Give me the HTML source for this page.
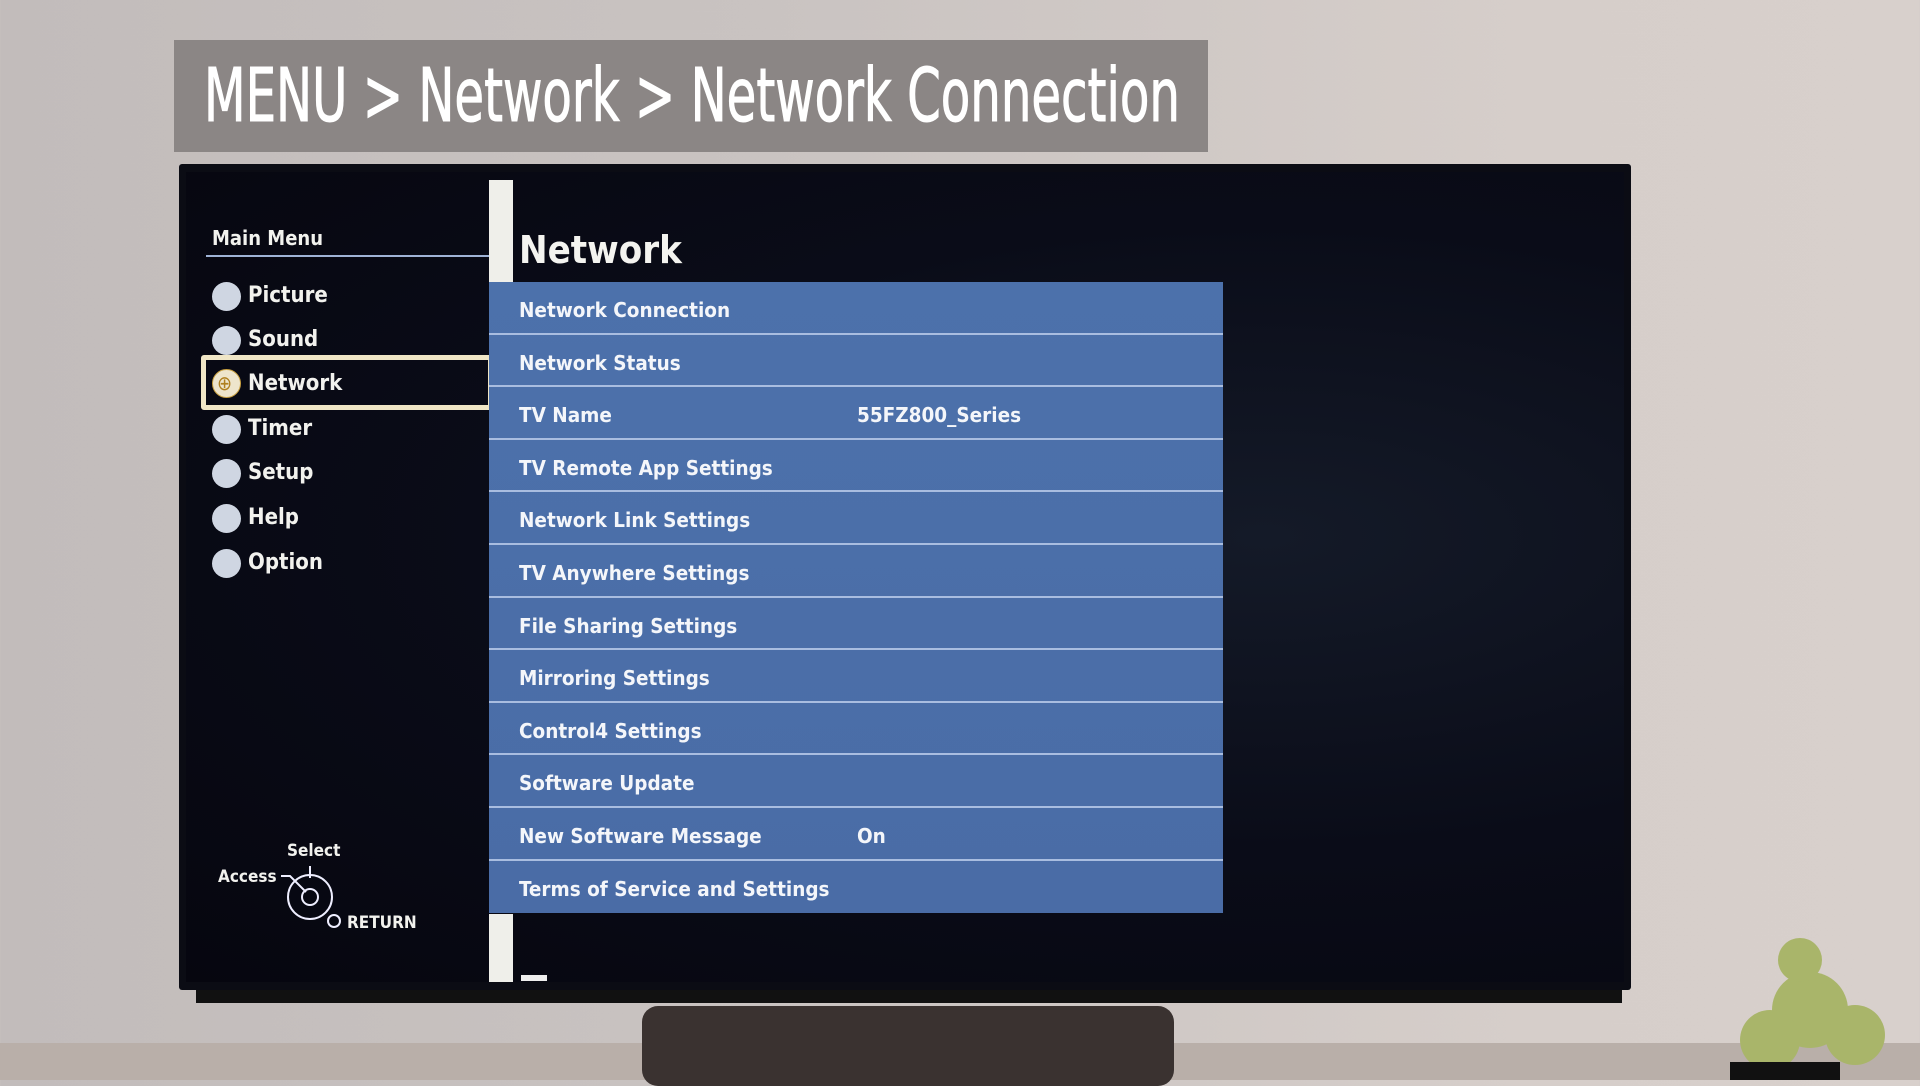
<!DOCTYPE html>
<html><head><meta charset="utf-8"><style>
*{margin:0;padding:0;box-sizing:border-box}
body{width:1920px;height:1080px;overflow:hidden;position:relative;background:linear-gradient(90deg,#c2bcbb 0%,#c9c3c1 40%,#d6ceca 80%,#d8d0cc 100%);font-family:"DejaVu Sans Condensed","DejaVu Sans","Liberation Sans",sans-serif;}
.abs{position:absolute}
#title{left:174px;top:40px;width:1034px;height:112px;background:#8b8685;overflow:hidden}
#title span{position:absolute;left:30px;top:0;color:#fff;font-family:"DejaVu Sans Condensed","DejaVu Sans",sans-serif;font-size:74px;line-height:112px;white-space:nowrap;transform:scaleX(0.724);transform-origin:left center;-webkit-text-stroke:1px #fff}
#tv{left:179px;top:164px;width:1452px;height:826px;background:#0b0c14;border-radius:3px;}
#screen{left:186px;top:172px;width:1438px;height:810px;background:radial-gradient(ellipse at 75% 45%,#141a28 0%,#0a0c18 50%,#06060f 100%);}
.mm{color:#f2f2ee;font-weight:bold;font-size:21px}
.item{position:absolute;left:248px;color:#f2f2ee;font-weight:bold;font-size:22px;line-height:30px}
.ic{position:absolute;left:212px;width:29px;height:29px;border-radius:50%;background:#cfd6e2}
#panel{left:489px;top:282px;width:734px;height:631px;background:linear-gradient(180deg,#4c71ab,#4a6ca6);}
.row{position:absolute;left:0;width:734px;height:52.6px;border-bottom:2px solid #a9bde0;color:#f4f6fa;font-weight:bold;font-size:20.5px;line-height:56px;padding-left:30px}
.row span{position:absolute;left:368px}
</style></head><body>
<div id="title" class="abs"><span>MENU &gt; Network &gt; Network Connection</span></div>
<div class="abs" style="left:0;top:1043px;width:1920px;height:37px;background:#b9afa9"></div>
<div class="abs" style="left:642px;top:1006px;width:532px;height:80px;background:#3a3230;border-radius:16px"></div>
<div class="abs" style="left:196px;top:985px;width:1426px;height:18px;background:#111"></div>
<div id="tv" class="abs"></div>
<div id="screen" class="abs"></div>
<div class="abs mm" style="left:212px;top:226px;font-size:20px">Main Menu</div>
<div class="abs" style="left:206px;top:255px;width:283px;height:2px;background:#9fb3d6"></div>
<div class="abs" style="left:201px;top:355px;width:292px;height:55px;border:5px solid #f0e6c6;border-radius:3px"></div>
<div class="ic" style="top:282px"></div><div class="item" style="top:281px">Picture</div>
<div class="ic" style="top:326px"></div><div class="item" style="top:325px">Sound</div>
<div class="ic" style="top:369px;background:#eee5cc;border:1px solid #c9a040"></div><div class="abs" style="left:217px;top:371px;color:#b08020;font-size:20px">⊕</div><div class="item" style="top:369px">Network</div>
<div class="ic" style="top:415px"></div><div class="item" style="top:414px">Timer</div>
<div class="ic" style="top:459px"></div><div class="item" style="top:458px">Setup</div>
<div class="ic" style="top:504px"></div><div class="item" style="top:503px">Help</div>
<div class="ic" style="top:549px"></div><div class="item" style="top:548px">Option</div>
<div class="abs" style="left:489px;top:180px;width:24px;height:104px;background:#efefea"></div>
<div class="abs" style="left:489px;top:914px;width:24px;height:68px;background:#efefea"></div>
<div class="abs" style="left:519px;top:228px;color:#f4f4f0;font-weight:bold;font-size:38px">Network</div>
<div id="panel" class="abs">
<div class="row" style="top:0">Network Connection</div>
<div class="row" style="top:52.6px">Network Status</div>
<div class="row" style="top:105.2px">TV Name<span>55FZ800_Series</span></div>
<div class="row" style="top:157.8px">TV Remote App Settings</div>
<div class="row" style="top:210.4px">Network Link Settings</div>
<div class="row" style="top:263px">TV Anywhere Settings</div>
<div class="row" style="top:315.6px">File Sharing Settings</div>
<div class="row" style="top:368.2px">Mirroring Settings</div>
<div class="row" style="top:420.8px">Control4 Settings</div>
<div class="row" style="top:473.4px">Software Update</div>
<div class="row" style="top:526px">New Software Message<span>On</span></div>
<div class="row" style="top:578.6px;border-bottom:none">Terms of Service and Settings</div>
</div>
<div class="abs mm" style="left:287px;top:841px;font-size:17px">Select</div>
<div class="abs mm" style="left:218px;top:867px;font-size:17px">Access</div>
<div class="abs mm" style="left:347px;top:913px;font-size:17px">RETURN</div>
<svg class="abs" style="left:0;top:0" width="1920" height="1080">
<g stroke="#eef" stroke-width="2" fill="none">
<circle cx="310" cy="897" r="22"/><circle cx="310" cy="897" r="8"/><circle cx="334" cy="921" r="6"/>
<path d="M281 876 H290 L306 892 M310 866 V878"/>
</g>
<path d="M521 975 h26 v6 h-26z" fill="#eee"/>
<g fill="#a9b56a"><circle cx="1810" cy="1010" r="38"/><circle cx="1770" cy="1040" r="30"/><circle cx="1855" cy="1035" r="30"/><circle cx="1800" cy="960" r="22"/></g>
<rect x="1730" y="1062" width="110" height="18" fill="#111"/>
</svg>
</body></html>
